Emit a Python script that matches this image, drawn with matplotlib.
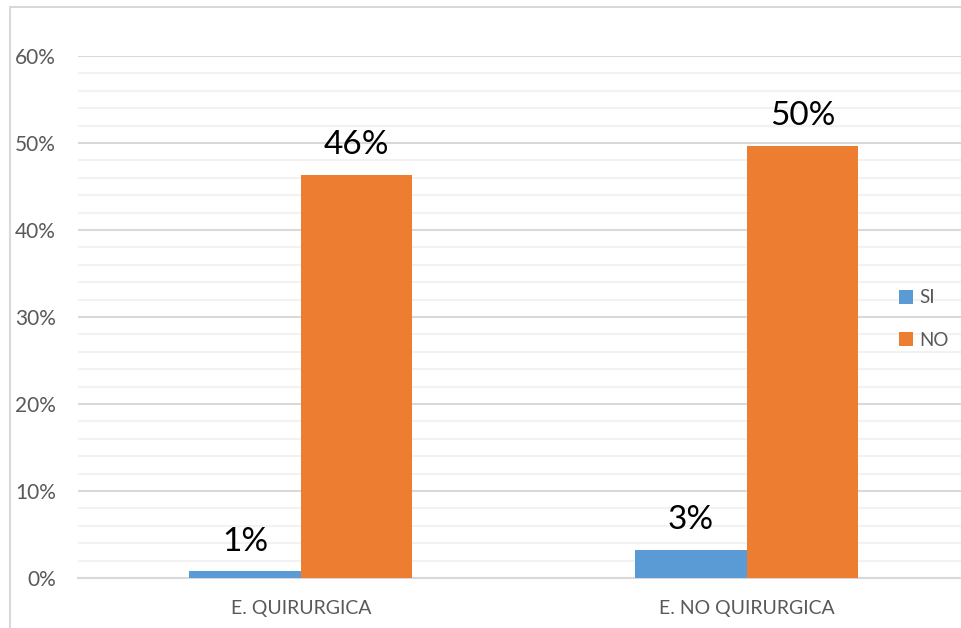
import matplotlib.pyplot as plt
import numpy as np
from matplotlib.patches import Rectangle
from matplotlib.ticker import MultipleLocator, PercentFormatter

categories = ['E. QUIRURGICA', 'E. NO QUIRURGICA']
si = [0.75, 3.2]
no = [46.3, 49.7]
si_labels = ['1%', '3%']
no_labels = ['46%', '50%']

plt.rcParams['font.family'] = ['Lato', 'DejaVu Sans']

fig = plt.figure(figsize=(9.61, 6.28), dpi=100, facecolor='w')
# chart frame (cropped on the right and bottom)
fig.patches.append(Rectangle((10 / 961, -0.1), 1.2, 1 - 7 / 628 + 0.1,
                             transform=fig.transFigure, fill=False,
                             edgecolor='#d9d9d9', linewidth=1.5))

ax = fig.add_axes([78 / 961, 1 - 578 / 628, 891.5 / 961, 522 / 628])

x = np.arange(len(categories))
w = 0.25
b1 = ax.bar(x - w / 2, si, w, color='#5B9BD5', label='SI', zorder=3)
b2 = ax.bar(x + w / 2, no, w, color='#ED7D31', label='NO', zorder=3)

for bars, labels in [(b1, si_labels), (b2, no_labels)]:
    for rect, lab in zip(bars, labels):
        ax.annotate(lab, (rect.get_x() + rect.get_width() / 2, rect.get_height()),
                    xytext=(0, 15), textcoords='offset points',
                    ha='center', va='baseline', fontsize=24, color='black')

ax.set_xlim(-0.5, 1.5)
ax.set_ylim(0, 60)
ax.yaxis.set_major_locator(MultipleLocator(10))
ax.yaxis.set_minor_locator(MultipleLocator(2))
ax.yaxis.set_major_formatter(PercentFormatter(decimals=0))
ax.grid(True, axis='y', which='major', color='#d9d9d9', linewidth=1.5, zorder=0)
ax.grid(True, axis='y', which='minor', color='#f2f2f2', linewidth=1.5, zorder=0)
ax.set_axisbelow(True)
for s in ax.spines.values():
    s.set_visible(False)
ax.spines['bottom'].set_visible(True)
ax.spines['bottom'].set_color('#d9d9d9')
ax.spines['bottom'].set_linewidth(1.5)

ax.set_xticks(x)
ax.set_xticklabels(categories)
ax.tick_params(axis='x', length=0, pad=16, labelsize=14, labelcolor='#595959')
ax.tick_params(axis='y', which='both', length=0, pad=16, labelsize=15, labelcolor='#595959')

ax.legend(loc='center left', bbox_to_anchor=(890 / 961, 1 - 319 / 628),
          bbox_transform=fig.transFigure, frameon=False, fontsize=13.5,
          handlelength=0.75, handleheight=0.75, handletextpad=0.3,
          labelspacing=1.35, labelcolor='#595959', borderpad=0)

fig.savefig('out.png', dpi=100)
